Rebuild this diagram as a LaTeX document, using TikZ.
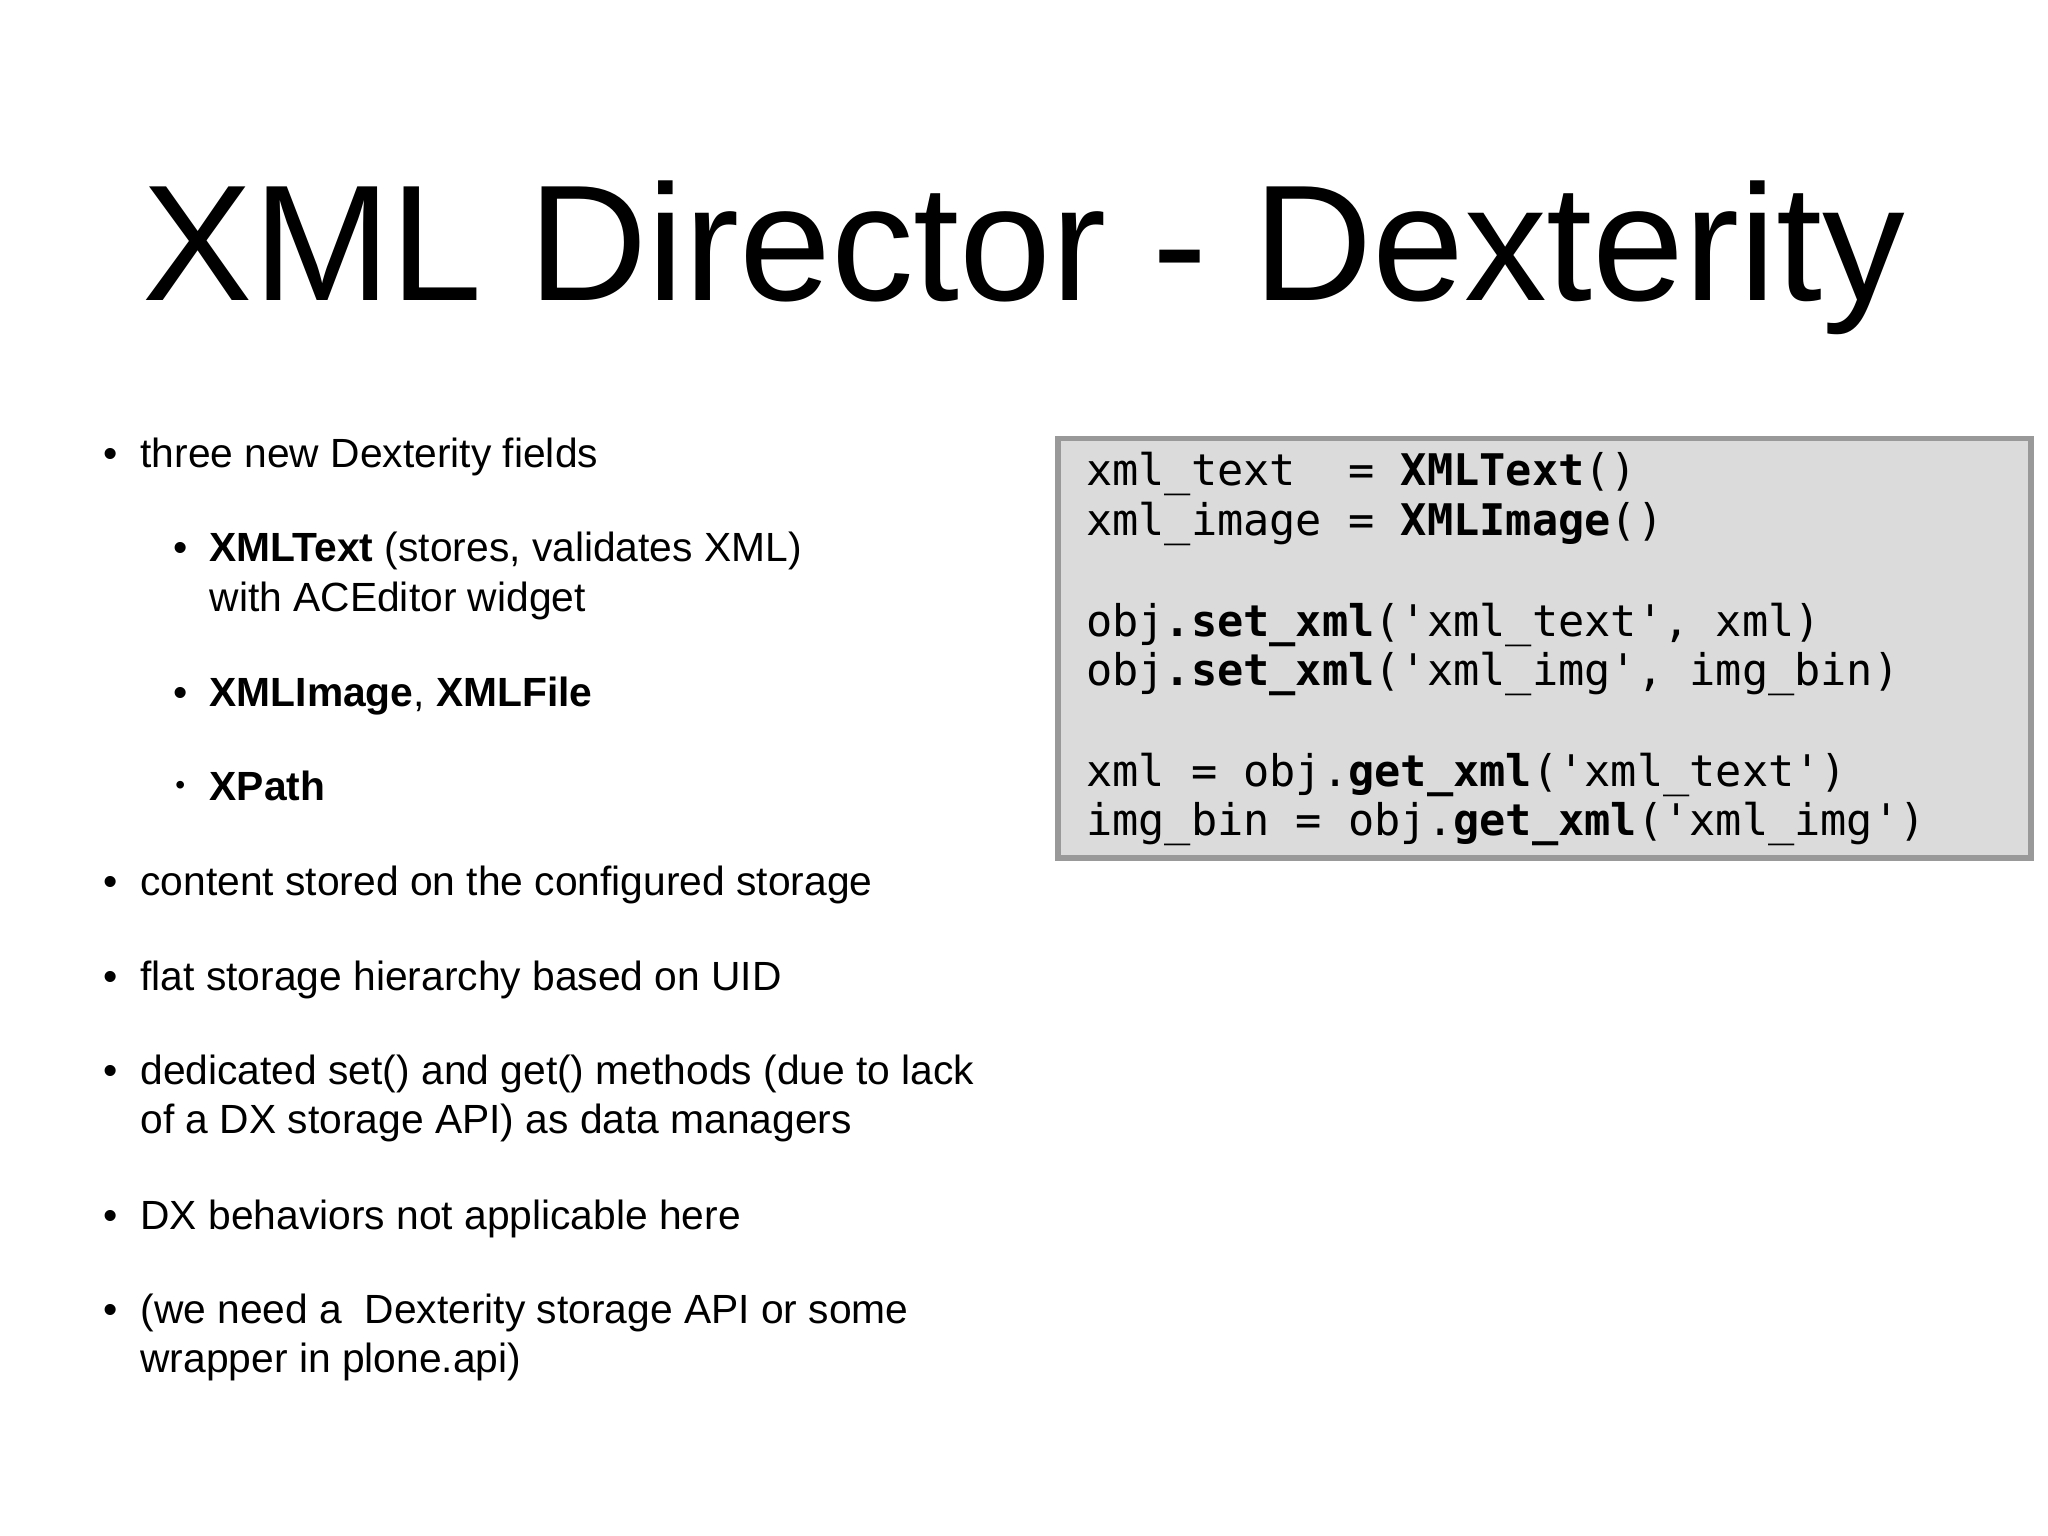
\documentclass[tikz,border=0pt]{standalone}
\usepackage{fontspec}
\setmainfont{Liberation Sans}
\newfontfamily\codefont{DejaVu Sans Mono}
\begin{document}
\begin{tikzpicture}[x=0.01306cm,y=-0.01306cm,
  txt/.style={anchor=base west,inner sep=0,font=\fontsize{11.6pt}{14pt}\selectfont},
  bul/.style={anchor=base,inner sep=0,font=\fontsize{11.6pt}{14pt}\selectfont},
  code/.style={anchor=base west,inner sep=0,font=\codefont\fontsize{12.4pt}{15pt}\selectfont}]
\useasboundingbox (0,0) rectangle (1568,1176);
\node[anchor=base,inner sep=0,font=\fontsize{47pt}{50pt}\selectfont] (title) at (784,230) {XML Director - Dexterity};
\foreach \y/\n in {358/a,686/b,758/c,830/d,941/e,1013/f} \node[bul] (b\n) at (85,\y) {•};
\foreach \y/\n in {430/a,541/b} \node[bul] (s\n) at (138,\y) {•};
\node[bul,font=\fontsize{8pt}{10pt}\selectfont] (sc) at (138,608) {•};
\node[txt] (t1) at (107,358) {three new Dexterity fields};
\node[txt] (t2) at (160,430) {\textbf{XMLText} (stores, validates XML)};
\node[txt] (t3) at (160,468) {with ACEditor widget};
\node[txt] (t4) at (160,541) {\textbf{XMLImage}, \textbf{XMLFile}};
\node[txt] (t5) at (160,613) {\textbf{XPath}};
\node[txt] (t6) at (107,686) {content stored on the configured storage};
\node[txt] (t7) at (107,758) {flat storage hierarchy based on UID};
\node[txt] (t8) at (107,830) {dedicated set() and get() methods (due to lack};
\node[txt] (t9) at (107,868) {of a DX storage API) as data managers};
\node[txt] (t10) at (107,941) {DX behaviors not applicable here};
\node[txt] (t11) at (107,1013) {(we need a\ \ Dexterity storage API or some};
\node[txt] (t12) at (107,1051) {wrapper in plone.api)};
\draw[draw=black!40,line width=1.5pt,fill=black!14] (810,336) rectangle (1555,657);
\node[code] (c1) at (831,372) {xml\_text\ \ = \textbf{XMLText}()};
\node[code] (c2) at (831,410) {xml\_image = \textbf{XMLImage}()};
\node[code] (c3) at (831,487) {obj\textbf{.set\_xml}('xml\_text', xml)};
\node[code] (c4) at (831,525) {obj\textbf{.set\_xml}('xml\_img', img\_bin)};
\node[code] (c5) at (831,602) {xml = obj.\textbf{get\_xml}('xml\_text')};
\node[code] (c6) at (831,640) {img\_bin = obj.\textbf{get\_xml}('xml\_img')};
\end{tikzpicture}
\end{document}
